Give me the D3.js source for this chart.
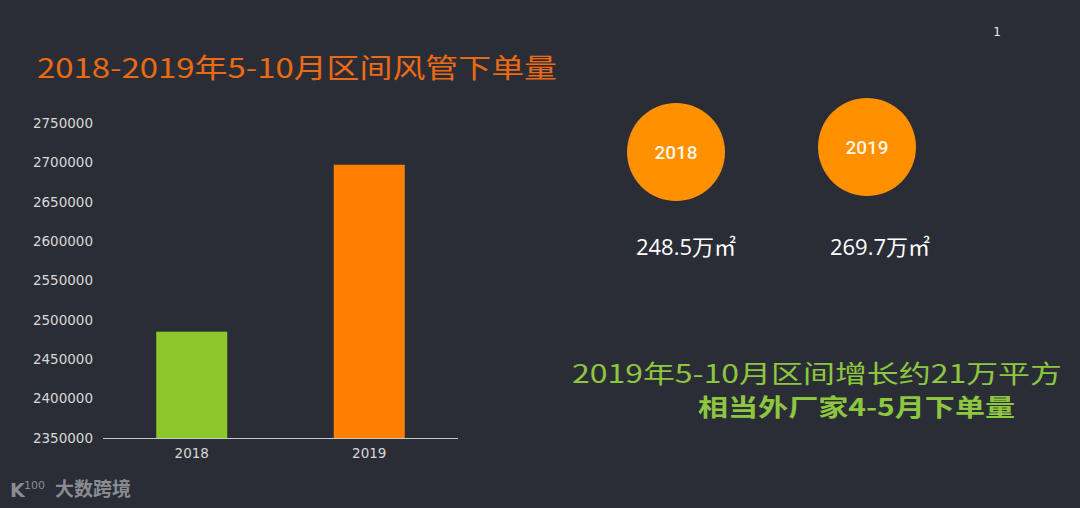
<!DOCTYPE html>
<html><head><meta charset="utf-8">
<script src="https://cdn.jsdelivr.net/npm/d3@7"></script>
<style>
html,body{margin:0;padding:0;background:#2b2d36;}
svg{display:block;}
</style></head>
<body>
<svg id="c" width="1080" height="508"></svg>
<script>
const categories = ["2018", "2019"];
const values = [2485000, 2697000];
const yTicks = [2350000, 2400000, 2450000, 2500000, 2550000, 2600000, 2650000, 2700000, 2750000];
const circleLabels = ["2018", "2019"];
const circleValues = ["248.5万㎡", "269.7万㎡"];
const barColors = ["#8dc82b", "#ff7f00"];

const svg = d3.select("#c");
svg.append("rect").attr("width",1080).attr("height",508).attr("fill","#2b2d36");

const x = d3.scaleBand().domain(categories).range([103,458]).paddingInner(0.6).paddingOuter(0.3);
const y = d3.scaleLinear().domain([2350000,2750000]).range([438,123]);

// bars
svg.selectAll("rect.bar").data(values).enter().append("rect")
  .attr("class","bar")
  .attr("x",(d,i)=>x(categories[i]))
  .attr("width",x.bandwidth())
  .attr("y",d=>y(d))
  .attr("height",d=>y(2350000)-y(d))
  .attr("fill",(d,i)=>barColors[i]);

// y axis
const ya = svg.append("g").attr("transform","translate(103,0)")
  .call(d3.axisLeft(y).tickValues(yTicks).tickFormat(d3.format("d")).tickSize(0).tickPadding(10));
ya.select(".domain").remove();
ya.selectAll("text").attr("fill","#d8d8d8").style("font-family","DejaVu Sans").style("font-size","13.5px");

// x axis
const xa = svg.append("g").attr("transform","translate(0,438)")
  .call(d3.axisBottom(x).tickSize(0).tickPadding(10));
xa.select(".domain").attr("stroke","#c8c8c8").attr("stroke-width",1).attr("d","M103,0.5H458");
xa.selectAll("text").attr("fill","#d8d8d8").style("font-family","DejaVu Sans").style("font-size","13.5px");

// title
svg.append("text").attr("x",37).attr("y",78)
  .attr("fill","#ec6a12").style("font-family","'Comic Sans MS','Noto Sans CJK SC',sans-serif")
  .style("font-size","27px")
  .attr("textLength",520).attr("lengthAdjust","spacingAndGlyphs")
  .text("2018-2019年5-10月区间风管下单量");

// page number
svg.append("text").attr("x",997).attr("y",36).attr("text-anchor","middle")
  .attr("fill","#e8e8e8").style("font-family","DejaVu Sans").style("font-size","12px").text("1");

// circles
const cx = [676, 867], cy = [152, 147];
svg.selectAll("circle.b").data(circleLabels).enter().append("circle")
  .attr("cx",(d,i)=>cx[i]).attr("cy",(d,i)=>cy[i]).attr("r",49).attr("fill","#ff9000");
svg.selectAll("text.cl").data(circleLabels).enter().append("text")
  .attr("x",(d,i)=>cx[i]).attr("y",(d,i)=>cy[i]+7).attr("text-anchor","middle")
  .attr("fill","#fff4e6").style("font-family","Roboto").style("font-weight","500").style("font-size","19px").text(d=>d);
const vx = [686, 880];
svg.selectAll("text.cv").data(circleValues).enter().append("text")
  .attr("x",(d,i)=>vx[i]).attr("y",255).attr("text-anchor","middle")
  .attr("fill","#ffffff").style("font-family","'Open Sans','Noto Sans CJK SC'").style("font-size","22px").text(d=>d);

// green notes
svg.append("text").attr("x",572).attr("y",383)
  .attr("fill","#8dc63f").style("font-family","'Noto Sans CJK SC',sans-serif").style("font-size","25px")
  .attr("textLength",490).attr("lengthAdjust","spacingAndGlyphs")
  .text("2019年5-10月区间增长约21万平方");
svg.append("text").attr("x",698).attr("y",416)
  .attr("fill","#8dc63f").style("font-family","'Noto Sans CJK SC',sans-serif").style("font-size","24px").style("font-weight","bold")
  .attr("textLength",317).attr("lengthAdjust","spacingAndGlyphs")
  .text("相当外厂家4-5月下单量");

// watermark
svg.append("text").attr("x",10).attr("y",497)
  .attr("fill","#8a8c93").style("font-family","'DejaVu Sans'").style("font-size","19px").style("font-weight","bold").text("K");
svg.append("text").attr("x",24).attr("y",489)
  .attr("fill","#8a8c93").style("font-family","'DejaVu Sans'").style("font-size","11px").text("100");
svg.append("text").attr("x",55).attr("y",496)
  .attr("fill","#8a8c93").style("font-family","'Noto Sans CJK SC'").style("font-size","19px").style("font-weight","bold").text("大数跨境");
</script>
</body></html>
